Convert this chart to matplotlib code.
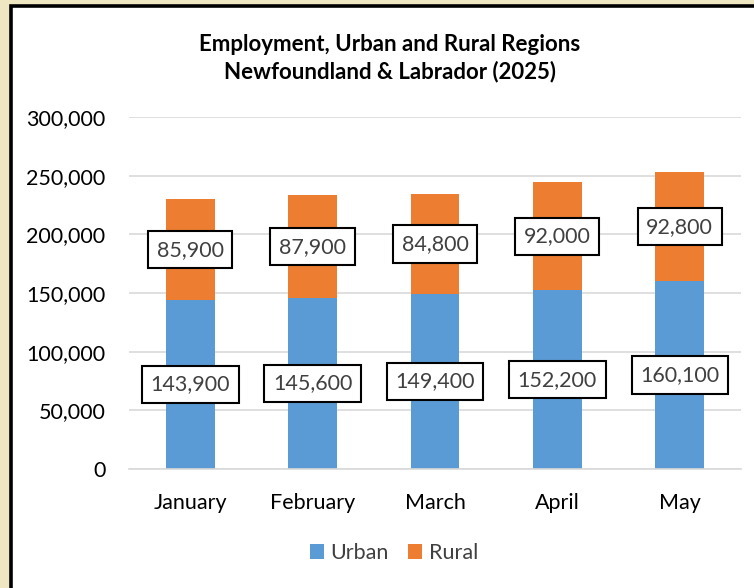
import matplotlib.pyplot as plt
from matplotlib.patches import Rectangle
from matplotlib.ticker import FuncFormatter

# data
months = ["January", "February", "March", "April", "May"]
urban = [143900, 145600, 149400, 152200, 160100]
rural = [85900, 87900, 84800, 92000, 92800]

BLUE = "#5B9BD5"
ORANGE = "#ED7D31"
TEXT = "#404040"

plt.rcParams['font.family'] = ['Lato', 'DejaVu Sans']

fig = plt.figure(figsize=(7.54, 5.88), dpi=100)
fig.patch.set_facecolor("#EFE7C2")

# white chart area with black frame
frame = Rectangle((11 / 754, -0.02), 1.0, 1 - 5.5 / 588 + 0.02, transform=fig.transFigure,
                  facecolor="white", edgecolor="black", linewidth=2.6, zorder=-1)
fig.patches.append(frame)

ax = fig.add_axes([129 / 754, (588 - 469) / 588, (741 - 129) / 754, (469 - 117) / 588])
ax.set_facecolor("none")

x = range(len(months))
ax.bar(x, urban, width=0.4, color=BLUE, label="Urban", zorder=2)
ax.bar(x, rural, width=0.4, bottom=urban, color=ORANGE, label="Rural", zorder=2)

box = dict(boxstyle="square,pad=0.4", facecolor="white", edgecolor="black", linewidth=1.5)
for i in x:
    ax.text(i, urban[i] / 2, f"{urban[i]:,}", ha="center", va="center",
            fontsize=15.5, color=TEXT, bbox=box, zorder=3)
    ax.text(i, urban[i] + rural[i] / 2, f"{rural[i]:,}", ha="center", va="center",
            fontsize=15.5, color=TEXT, bbox=box, zorder=3)

ax.set_ylim(0, 300000)
ax.set_xlim(-0.5, 4.5)
ax.set_yticks(range(0, 300001, 50000))
ax.yaxis.set_major_formatter(FuncFormatter(lambda v, p: f"{int(v):,}"))
ax.set_xticks(list(x))
ax.set_xticklabels(months)
ax.tick_params(axis="both", length=0, labelsize=15.5, colors="black")
ax.tick_params(axis="x", pad=17)
ax.tick_params(axis="y", pad=17)
ax.grid(axis="y", color="#D9D9D9", linewidth=1.2, zorder=0)
for s in ["top", "right", "left"]:
    ax.spines[s].set_visible(False)
ax.spines["bottom"].set_color("#D9D9D9")
ax.spines["bottom"].set_linewidth(1.2)

fig.text(390 / 754, 1 - 58 / 588, "Employment, Urban and Rural Regions\nNewfoundland & Labrador (2025)",
         ha="center", va="center", fontsize=16, fontweight="bold", color="black", linespacing=1.3)

fig.legend(loc="center", bbox_to_anchor=(394 / 754, 1 - 553 / 588), ncol=2, frameon=False,
           fontsize=15.5, handlelength=0.65, handleheight=0.65, handletextpad=0.3, columnspacing=0.9,
           labelcolor=TEXT)

fig.savefig("out.png", dpi=100, facecolor=fig.get_facecolor())
